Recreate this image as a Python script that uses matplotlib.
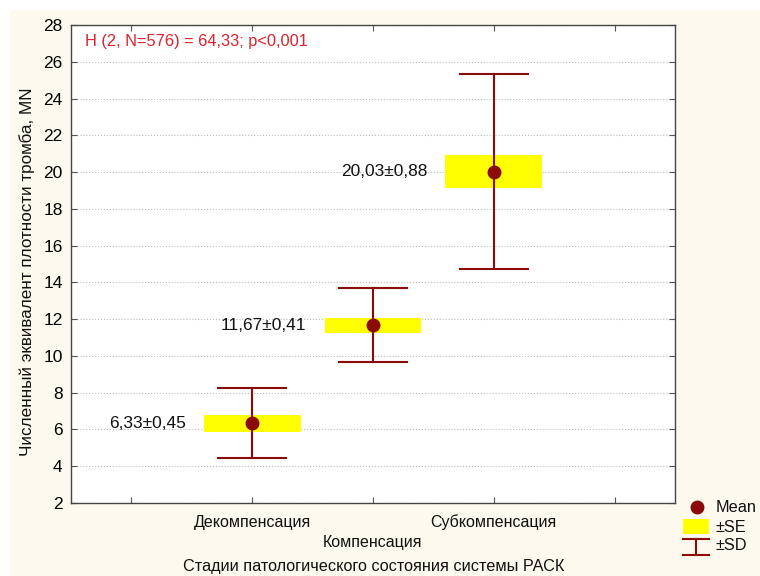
import matplotlib
matplotlib.use('Agg')
import matplotlib.pyplot as plt
from matplotlib.patches import Rectangle
from matplotlib.lines import Line2D

plt.rcParams['font.family'] = ['Liberation Sans', 'DejaVu Sans']

# данные
categories = ['Декомпенсация', 'Компенсация', 'Субкомпенсация']
positions = [1, 2, 3]
means = [6.33, 11.67, 20.03]
se = [0.45, 0.41, 0.88]
sd = [1.9, 2.02, 5.28]
labels = ['6,33±0,45', '11,67±0,41', '20,03±0,88']
yticks = list(range(2, 29, 2))
legend_labels = ['Mean', '±SE', '±SD']

dark_red = '#8b0a0a'
yellow = '#ffff00'
beige = '#fdf9ee'
W, H = 760, 576


def fx(px):
    return px / W


def fy(py):
    return 1 - py / H


fig = plt.figure(figsize=(7.6, 5.76), dpi=100)
fig.patch.set_facecolor('white')
# бежевый фон как в Statistica
fig.patches.append(Rectangle((fx(10), 0), 750 / W, fy(10),
                             transform=fig.transFigure, facecolor=beige,
                             edgecolor='none', zorder=-10))

ax = fig.add_axes([fx(71), fy(503), 604 / W, 478 / H])
ax.set_facecolor('white')

# SE - жёлтые прямоугольники
for x, m, s in zip(positions, means, se):
    ax.add_patch(Rectangle((x - 0.4, m - s), 0.8, 2 * s, facecolor=yellow,
                           edgecolor='none', zorder=2))

# SD - усы
for x, m, s in zip(positions, means, sd):
    ax.plot([x, x], [m - s, m + s], color=dark_red, lw=1.5, zorder=3)
    ax.plot([x - 0.28, x + 0.28], [m + s, m + s], color=dark_red, lw=1.5, zorder=3)
    ax.plot([x - 0.28, x + 0.28], [m - s, m - s], color=dark_red, lw=1.5, zorder=3)

ax.plot(positions, means, 'o', color=dark_red, ms=9, zorder=4, linestyle='none')

for x, m, t in zip(positions, means, labels):
    ax.text(x - 0.55, m, t, ha='right', va='center', fontsize=12.5, color='#111111')

ax.text(-0.38, 27.1, 'H (2, N=576) = 64,33; p<0,001', color='#e0202a',
        fontsize=11.8, ha='left', va='center')

ax.set_xlim(-0.5, 4.5)
ax.set_ylim(2, 28)
ax.set_yticks(yticks)
ax.set_xticks([0, 1, 2, 3, 4])
ax.set_xticklabels(['', '', '', '', ''])
ax.tick_params(axis='both', direction='in', length=4, color='#555555',
               top=True, right=True, labelsize=12.5, pad=6)
ax.yaxis.grid(True, linestyle=':', color='#bbbbbb', lw=0.8)
ax.set_axisbelow(True)
for sp in ax.spines.values():
    sp.set_color('#444444')
    sp.set_linewidth(1)

# подписи категорий в два ряда
cat_y = [522, 542, 522]
for x, c, py in zip(positions, categories, cat_y):
    ax.text(x, 0, c, transform=ax.get_xaxis_transform(), ha='center',
            va='center', fontsize=11.5, color='#111111')
    ax.texts[-1].set_position((x, (fy(py) - fy(503)) / (478 / H)))

fig.text(fx(374), fy(567), 'Стадии патологического состояния системы РАСК',
         ha='center', va='center', fontsize=11.7, color='#111111')
fig.text(fx(27), fy(272), 'Численный эквивалент плотности тромба, MN',
         rotation=90, ha='center', va='center', fontsize=12.3, color='#111111')

# легенда (нарисована вручную)
fig.add_artist(Line2D([fx(697)], [fy(507)], marker='o', color=dark_red,
                      ms=9, linestyle='none', transform=fig.transFigure))
fig.patches.append(Rectangle((fx(683), fy(534)), 26 / W, 15 / H,
                             transform=fig.transFigure, facecolor=yellow,
                             edgecolor='none'))
for x0, y0, x1, y1 in [(683, 539, 709, 539), (683, 555, 709, 555), (696, 539, 696, 555)]:
    fig.add_artist(Line2D([fx(x0), fx(x1)], [fy(y0), fy(y1)],
                          transform=fig.transFigure, color=dark_red, lw=1.5))
for t, py in zip(legend_labels, [508, 527, 546]):
    fig.text(fx(716), fy(py), t, ha='left', va='center', fontsize=11.7,
             color='#111111')

fig.savefig('out.png', dpi=100, facecolor=fig.get_facecolor())
